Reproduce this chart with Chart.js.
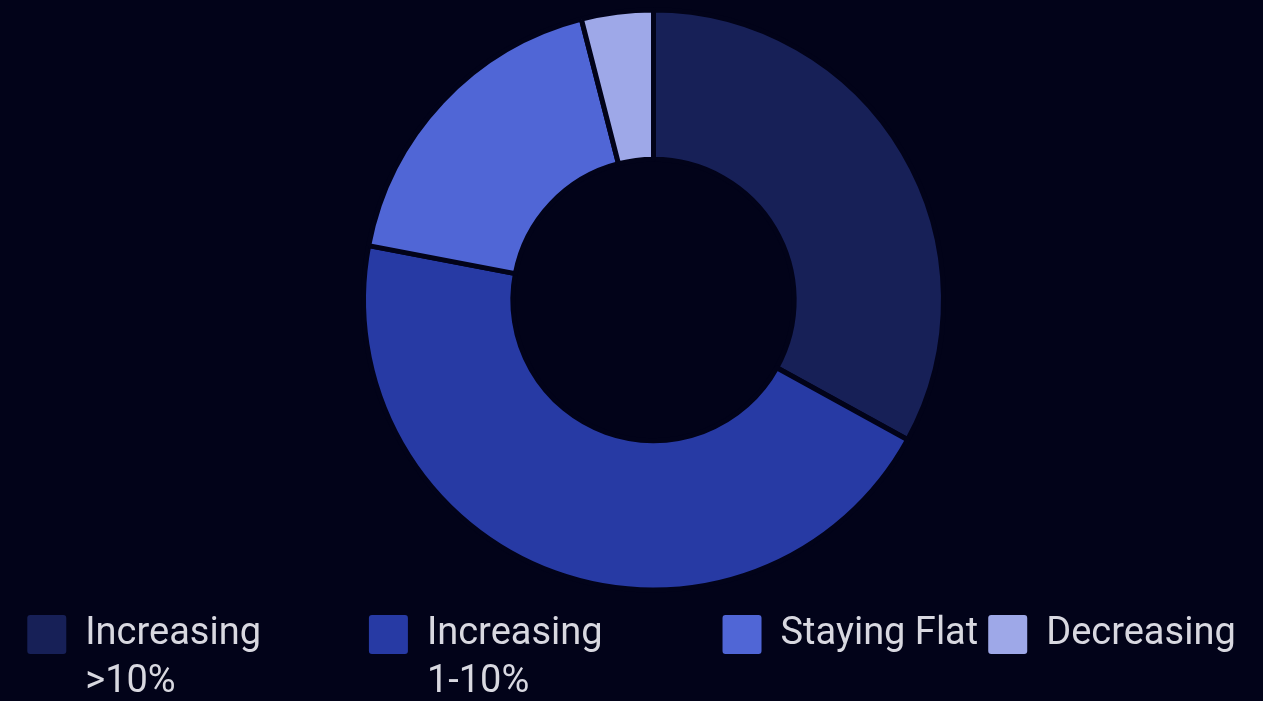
<!DOCTYPE html>
<html>
<head>
<meta charset="utf-8">
<script src="https://cdn.jsdelivr.net/npm/chart.js@4/dist/chart.umd.min.js"></script>
<style>
  html, body { margin: 0; padding: 0; background: #020319; overflow: hidden; }
  #wrap { position: relative; width: 1263px; height: 701px; }
</style>
</head>
<body>
<div id="wrap"><canvas id="trendChart"></canvas></div>
<script>
// categorias (las dos primeras van en dos lineas en la leyenda)
const categories = [['Increasing', '>10%'], ['Increasing', '1-10%'], 'Staying Flat', 'Decreasing'];
// porcentaje de cada tramo
const shares = [33, 45, 18, 4];

const sliceColors = ['#172057', '#273aa4', '#5066d6', '#9ea8e8'];
const bgColor = '#020319';

// corre el area del grafico (derecha y un poco arriba) sin mover la leyenda
const shiftDonut = {
    id: 'shiftDonut',
    afterLayout(chart) {
        const area = chart.chartArea;
        area.left += 44;
        area.width -= 44;
        area.top -= 5;
        area.height += 5;
    }
};

// la leyenda se recorta a su caja: la estiro hacia abajo para que entre la 2da linea
const tallLegend = {
    id: 'tallLegend',
    beforeInit(chart) {
        const fitOriginal = chart.legend.fit;
        chart.legend.fit = function () {
            fitOriginal.call(this);
            this.height += 37;
        };
    }
};

document.addEventListener('DOMContentLoaded', () => {
    Chart.defaults.font.family = 'Roboto';

    const ctx = document.getElementById('trendChart').getContext('2d');
    new Chart(ctx, {
        type: 'doughnut',
        data: {
            labels: categories,
            datasets: [{
                data: shares,
                backgroundColor: sliceColors,
                borderColor: bgColor,
                borderWidth: 5,
                radius: 290,
                cutout: '48.5%'
            }]
        },
        options: {
            responsive: true,
            maintainAspectRatio: false,
            animation: false,
            layout: { padding: 0 },
            plugins: {
                tooltip: { enabled: false },
                legend: {
                    position: 'bottom',
                    labels: {
                        color: '#d8d8e0',
                        font: { size: 38, lineHeight: 1.25 },
                        boxWidth: 39,
                        boxHeight: 39,
                        padding: 10,
                        useBorderRadius: true,
                        borderRadius: 3,
                        // quitar el borde oscuro de los cuadritos
                        generateLabels: (c) => Chart.overrides.doughnut.plugins.legend.labels
                            .generateLabels(c).map(item => ({ ...item, lineWidth: 0 }))
                    }
                }
            }
        },
        plugins: [shiftDonut, tallLegend]
    });
});
</script>
</body>
</html>
